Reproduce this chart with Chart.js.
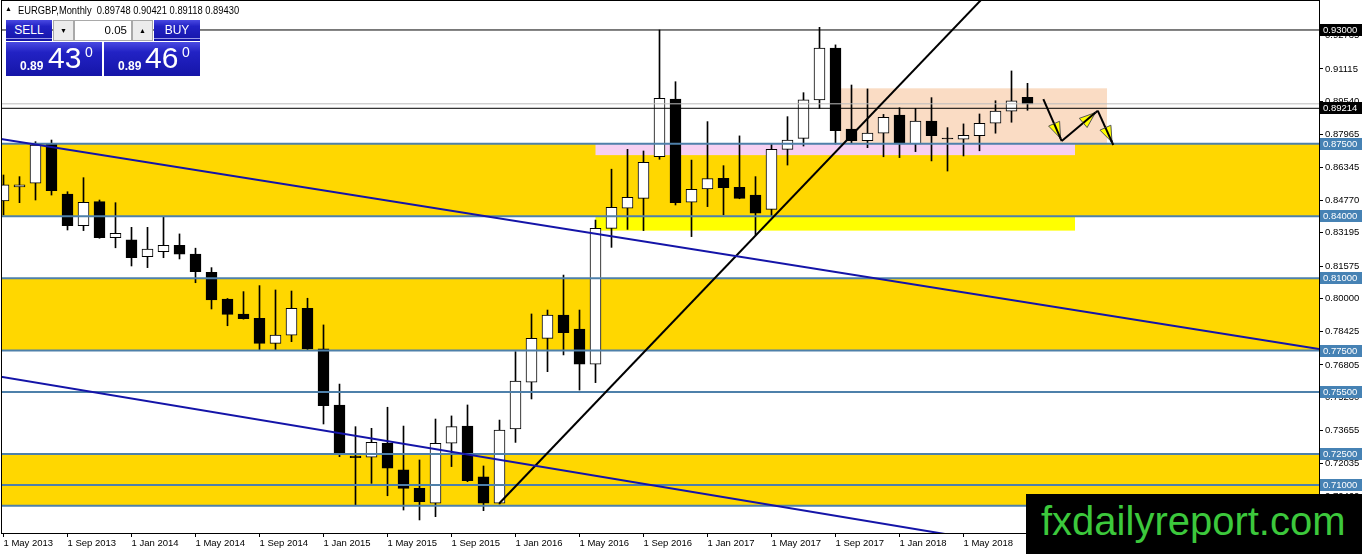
<!DOCTYPE html>
<html lang="en">
<head>
<meta charset="UTF-8">
<title>EURGBP Monthly</title>
<script src="https://cdn.jsdelivr.net/npm/chart.js"></script>
<style>
  body { margin: 0; background: #fff; }
  #wrap { position: relative; width: 1362px; height: 554px; overflow: hidden; font-family: "Liberation Sans", Arial, sans-serif; }
  #grafico { position: absolute; left: 0; top: 0; }
  .abs { position: absolute; white-space: nowrap; }
  #tri { left: 5px; top: 5px; font-size: 7px; }
  #hdr { left: 18px; top: 4px; font-size: 11px; line-height: 12px; transform: scaleX(0.85); transform-origin: 0 0; }
  .blue { position: absolute; color: #fff; background: linear-gradient(#4a4ae2, #2222c4 30%, #1515a8); }
  .small { height: 21px; top: 20px; width: 46px; font-size: 12px; line-height: 21px; text-align: center; box-shadow: inset 0 -2px 0 #1515a8, inset 0 -3px 0 #9a9ae8; }
  .gray { position: absolute; top: 20px; height: 21px; width: 21px; box-sizing: border-box; background: #ececec; border: 1px solid #a9a9a9; font-size: 7px; line-height: 19px; text-align: center; }
  #lot { position: absolute; top: 20px; left: 74px; width: 58px; height: 21px; box-sizing: border-box; background: #fff; border: 1px solid #a9a9a9; font-size: 11.5px; line-height: 19px; text-align: right; padding-right: 4px; }
  .big { top: 42px; height: 34px; width: 96px; }
  .big span { position: absolute; line-height: 1; }
  .p1 { font-size: 12px; font-weight: bold; top: 18px; }
  .p2 { font-size: 30px; top: 1px; }
  .p3 { font-size: 14px; top: 3px; }
  #wm { position: absolute; left: 1026px; top: 494px; width: 336px; height: 60px; background: #000; }
  #wm span { position: absolute; left: 15px; top: 7px; font-size: 40px; line-height: 1; color: #3cc83c; }
</style>
</head>
<body>
<div id="wrap">
  <canvas id="grafico" width="1362" height="554"></canvas>

  <div class="abs" id="tri">▲</div>
  <div class="abs" id="hdr">EURGBP,Monthly&nbsp; 0.89748 0.90421 0.89118 0.89430</div>

  <div class="blue small" style="left:6px">SELL</div>
  <div class="gray" style="left:53px">▼</div>
  <div id="lot">0.05</div>
  <div class="gray" style="left:132px">▲</div>
  <div class="blue small" style="left:154px">BUY</div>

  <div class="blue big" style="left:6px">
    <span class="p1" style="left:14px">0.89</span>
    <span class="p2" style="left:42px">43</span>
    <span class="p3" style="left:79px">0</span>
  </div>
  <div class="blue big" style="left:104px">
    <span class="p1" style="left:14px">0.89</span>
    <span class="p2" style="left:41px">46</span>
    <span class="p3" style="left:78px">0</span>
  </div>

  <div id="wm"><span>fxdailyreport.com</span></div>
</div>

<script>
  // monthly candles, May 2013 .. Sep 2018 (index 0 = May 2013)
  const opens  = [0.8473,0.8541,0.8559,0.8749,0.8507,0.8354,0.8470,0.8296,0.8285,0.8204,
                  0.8228,0.8259,0.8216,0.8128,0.7999,0.7927,0.7906,0.7785,0.7825,0.7954,
                  0.7758,0.7487,0.7240,0.7234,0.7302,0.7173,0.7084,0.7012,0.7302,0.7385,
                  0.7139,0.7012,0.7371,0.7597,0.7809,0.7922,0.7854,0.7684,0.8341,0.8438,
                  0.8486,0.8687,0.8966,0.8467,0.8531,0.8583,0.8539,0.8502,0.8433,0.8723,
                  0.8776,0.8962,0.9212,0.8821,0.8765,0.8801,0.8889,0.8749,0.8860,0.8773,
                  0.8772,0.8789,0.8849,0.8908,0.89748]
  const highs  = [0.8599,0.8591,0.8760,0.8768,0.8518,0.8586,0.8478,0.8465,0.8346,0.8346,
                  0.8397,0.8314,0.8245,0.8151,0.8002,0.8035,0.8064,0.8043,0.8038,0.8003,
                  0.7874,0.7588,0.7382,0.7374,0.7476,0.7385,0.7221,0.7419,0.7434,0.7487,
                  0.7192,0.7414,0.7745,0.7927,0.7946,0.8115,0.7946,0.8381,0.8627,0.8723,
                  0.8715,0.9300,0.9050,0.8671,0.8857,0.8644,0.8788,0.8591,0.8747,0.8881,
                  0.8997,0.9313,0.9228,0.9034,0.9015,0.8892,0.8924,0.8921,0.8973,0.8828,
                  0.8846,0.8894,0.8958,0.9102,0.90421]
  const lows   = [0.8406,0.8465,0.8478,0.8502,0.8333,0.8330,0.8293,0.8247,0.8159,0.8151,
                  0.8199,0.8193,0.8078,0.7951,0.7870,0.7902,0.7753,0.7753,0.7793,0.7753,
                  0.7395,0.7237,0.7003,0.7108,0.7048,0.6979,0.6931,0.6947,0.7189,0.7116,
                  0.6976,0.7008,0.7306,0.7516,0.7648,0.7729,0.7559,0.7595,0.8249,0.8336,
                  0.8330,0.8675,0.8454,0.8301,0.8446,0.8406,0.8484,0.8309,0.8397,0.8647,
                  0.8739,0.8921,0.8749,0.8752,0.8731,0.8687,0.8683,0.8712,0.8667,0.8618,
                  0.8691,0.8716,0.8801,0.8854,0.89118]
  const closes = [0.8551,0.8551,0.8744,0.8523,0.8354,0.8467,0.8296,0.8317,0.8199,0.8241,
                  0.8259,0.8216,0.8131,0.7995,0.7925,0.7904,0.7785,0.7825,0.7954,0.7758,
                  0.7483,0.7250,0.7232,0.7306,0.7181,0.7084,0.7019,0.7302,0.7382,0.7121,
                  0.7012,0.7366,0.7603,0.7809,0.7922,0.7836,0.7684,0.8341,0.8443,0.8491,
                  0.8660,0.8970,0.8465,0.8530,0.8581,0.8538,0.8486,0.8414,0.8723,0.8768,
                  0.8962,0.9212,0.8813,0.8765,0.8801,0.8878,0.8749,0.8860,0.8789,0.8773,
                  0.8791,0.8849,0.8908,0.8957,0.89430]

  const xTickIdx = [0,4,8,12,16,20,24,28,32,36,40,44,48,52,56,60]
  const xTickLabels = ["1 May 2013","1 Sep 2013","1 Jan 2014","1 May 2014","1 Sep 2014","1 Jan 2015",
                       "1 May 2015","1 Sep 2015","1 Jan 2016","1 May 2016","1 Sep 2016","1 Jan 2017",
                       "1 May 2017","1 Sep 2017","1 Jan 2018","1 May 2018"]
  const yTicks = [0.92735,0.91115,0.89540,0.87965,0.86345,0.84770,0.83195,0.81575,
                  0.80000,0.78425,0.76805,0.75230,0.73655,0.72035,0.70460]

  // horizontal levels and zones drawn on the chart
  const blueLevels  = [0.875,0.84,0.81,0.775,0.755,0.725,0.71,0.70]
  const blackLevels = [0.93,0.89214]
  const bidLevel    = 0.8943
  const goldBands   = [[0.84,0.875],[0.775,0.81],[0.70,0.725]]
  const pinkBox     = [37.0,66.97,0.8695,0.875]
  const yellowBox   = [37.0,66.97,0.833,0.84]
  const peachBox    = [52.28,68.97,0.875,0.9018]

  // trend lines [x0, price0, x1, price1]
  const blueTrends = [[-0.16,0.8773,82.22,0.7758],[-0.22,0.7624,59.78,0.6851]]
  const blackTrend = [30.99,0.7012,61.39,0.9469]
  const arrows = [[64.99,0.8966,66.14,0.8763],[66.14,0.8763,68.39,0.8910],[68.39,0.8910,69.36,0.8744]]

  const xMin = -0.15625, xMax = 82.21875
  const yMin = 0.686792, yMax = 0.944505
  const fonte = {family: '"Liberation Sans", Arial, sans-serif', size: 9.5}
  const steel = 'rgb(78,128,170)'

  const idx = opens.map((_, i) => i)
  const wicks = idx.map(i => ({x: i, y: [lows[i], highs[i]]}))
  const bodies = idx.map(i => ({x: i, y: [opens[i], closes[i]]}))
  const bodyFill = idx.map(i => closes[i] > opens[i] ? '#ffffff' : '#000000')

  const hline = (v, cor, w) => ({
    type: 'line', data: [{x: xMin - 1, y: v}, {x: xMax + 1, y: v}],
    borderColor: cor, borderWidth: w, pointRadius: 0, order: 1, clip: 0
  })
  const seg = (t, cor) => ({
    type: 'line', data: [{x: t[0], y: t[1]}, {x: t[2], y: t[3]}],
    borderColor: cor, borderWidth: 2, pointRadius: 0, order: 0, clip: 0
  })

  // zonas de fundo
  const zonas = {
    id: 'zonas',
    beforeDatasetsDraw(chart) {
      const {ctx, chartArea: a, scales: {x, y}} = chart
      const rect = (x0, x1, p0, p1, cor) => {
        const px0 = x.getPixelForValue(x0), px1 = x.getPixelForValue(x1)
        const py0 = y.getPixelForValue(p1), py1 = y.getPixelForValue(p0)
        ctx.fillStyle = cor
        ctx.fillRect(px0, py0, px1 - px0, py1 - py0)
      }
      ctx.save()
      ctx.beginPath(); ctx.rect(a.left, a.top, a.width, a.height); ctx.clip()
      goldBands.forEach(b => rect(xMin - 1, xMax + 1, b[0], b[1], '#ffd700'))
      rect(...peachBox, '#fadcc4')
      rect(...pinkBox, '#f6d0f2')
      rect(...yellowBox, '#ffff00')
      ctx.restore()
    }
  }

  // setas
  const setas = {
    id: 'setas',
    afterDatasetsDraw(chart) {
      const {ctx, scales: {x, y}} = chart
      ctx.save()
      arrows.forEach(s => {
        const x0 = x.getPixelForValue(s[0]), y0 = y.getPixelForValue(s[1])
        const x1 = x.getPixelForValue(s[2]), y1 = y.getPixelForValue(s[3])
        ctx.strokeStyle = '#000'; ctx.lineWidth = 2
        ctx.beginPath(); ctx.moveTo(x0, y0); ctx.lineTo(x1, y1); ctx.stroke()
        const len = Math.hypot(x1 - x0, y1 - y0), dx = (x1 - x0) / len, dy = (y1 - y0) / len
        const tx = x1 - dx * 3, ty = y1 - dy * 3, bx = tx - dx * 16, by = ty - dy * 16
        ctx.beginPath()
        ctx.moveTo(tx, ty); ctx.lineTo(bx - dy * 6, by + dx * 6); ctx.lineTo(bx + dy * 6, by - dx * 6)
        ctx.closePath()
        ctx.fillStyle = '#ffff00'; ctx.fill()
        ctx.strokeStyle = '#555'; ctx.lineWidth = 1; ctx.stroke()
        ctx.strokeStyle = '#000'; ctx.lineWidth = 2
        ctx.beginPath(); ctx.moveTo(bx, by); ctx.lineTo(tx, ty); ctx.stroke()
      })
      ctx.restore()
    }
  }

  // etiquetas de preco e moldura
  const etiquetas = {
    id: 'etiquetas',
    afterDraw(chart) {
      const {ctx, chartArea: a, scales: {y}} = chart
      ctx.save()
      ctx.font = '9.5px "Liberation Sans", Arial, sans-serif'
      ctx.textBaseline = 'middle'
      const box = (v, cor) => {
        const py = Math.round(y.getPixelForValue(v))
        ctx.fillStyle = cor
        ctx.fillRect(a.right + 1, py - 6, 1362 - a.right - 1, 12)
        ctx.fillStyle = '#fff'
        ctx.fillText(v.toFixed(5), a.right + 4, py + 0.5)
      }
      blueLevels.forEach(v => box(v, 'rgb(70,130,180)'))
      blackLevels.forEach(v => box(v, '#000'))
      ctx.strokeStyle = '#000'; ctx.lineWidth = 1
      ctx.strokeRect(a.left + 0.5, a.top + 0.5, a.right - a.left, a.bottom - a.top)
      ctx.restore()
    }
  }

  const ctx = document.getElementById('grafico')

  const grafico = new Chart(ctx, {
    type: 'bar',
    data: {
      datasets: [
        {data: wicks, backgroundColor: '#000', borderWidth: 0, barThickness: 1, grouped: false, order: 3, clip: 0},
        {data: bodies, backgroundColor: bodyFill, borderColor: '#000', borderWidth: 1, borderSkipped: false,
         barThickness: 11, minBarLength: 1, grouped: false, order: 2, clip: 0},
        ...blueLevels.map(v => hline(v, steel, 2)),
        hline(bidLevel, '#bdbdbd', 1),
        ...blackLevels.map(v => hline(v, '#000', 1)),
        ...blueTrends.map(t => seg(t, '#1414a8')),
        seg(blackTrend, '#000')
      ]
    },
    options: {
      responsive: false,
      animation: false,
      layout: {padding: {left: 1, top: 0, right: 0, bottom: 0}},
      plugins: {legend: {display: false}, tooltip: {enabled: false}},
      scales: {
        x: {
          type: 'linear', min: xMin, max: xMax, offset: false,
          grid: {offset: false, drawOnChartArea: false, tickLength: 4, color: '#000'},
          border: {display: false},
          ticks: {align: 'start', padding: 1, maxRotation: 0, autoSkip: false, font: fonte, color: '#000',
                  callback: v => xTickLabels[xTickIdx.indexOf(v)]},
          afterBuildTicks: s => { s.ticks = xTickIdx.map(v => ({value: v})) },
          afterFit: s => { s.height = 21; s.paddingLeft = 0; s.paddingRight = 0 }
        },
        y: {
          position: 'right', min: yMin, max: yMax, beginAtZero: false,
          grid: {drawOnChartArea: false, tickLength: 4, color: '#000'},
          border: {display: false},
          ticks: {padding: 2, font: fonte, color: '#000', autoSkip: false, callback: v => v.toFixed(5)},
          afterBuildTicks: s => { s.ticks = yTicks.map(v => ({value: v})) },
          afterFit: s => { s.width = 43; s.paddingTop = 0; s.paddingBottom = 0 }
        }
      }
    },
    plugins: [zonas, setas, etiquetas]
  })
</script>
</body>
</html>
